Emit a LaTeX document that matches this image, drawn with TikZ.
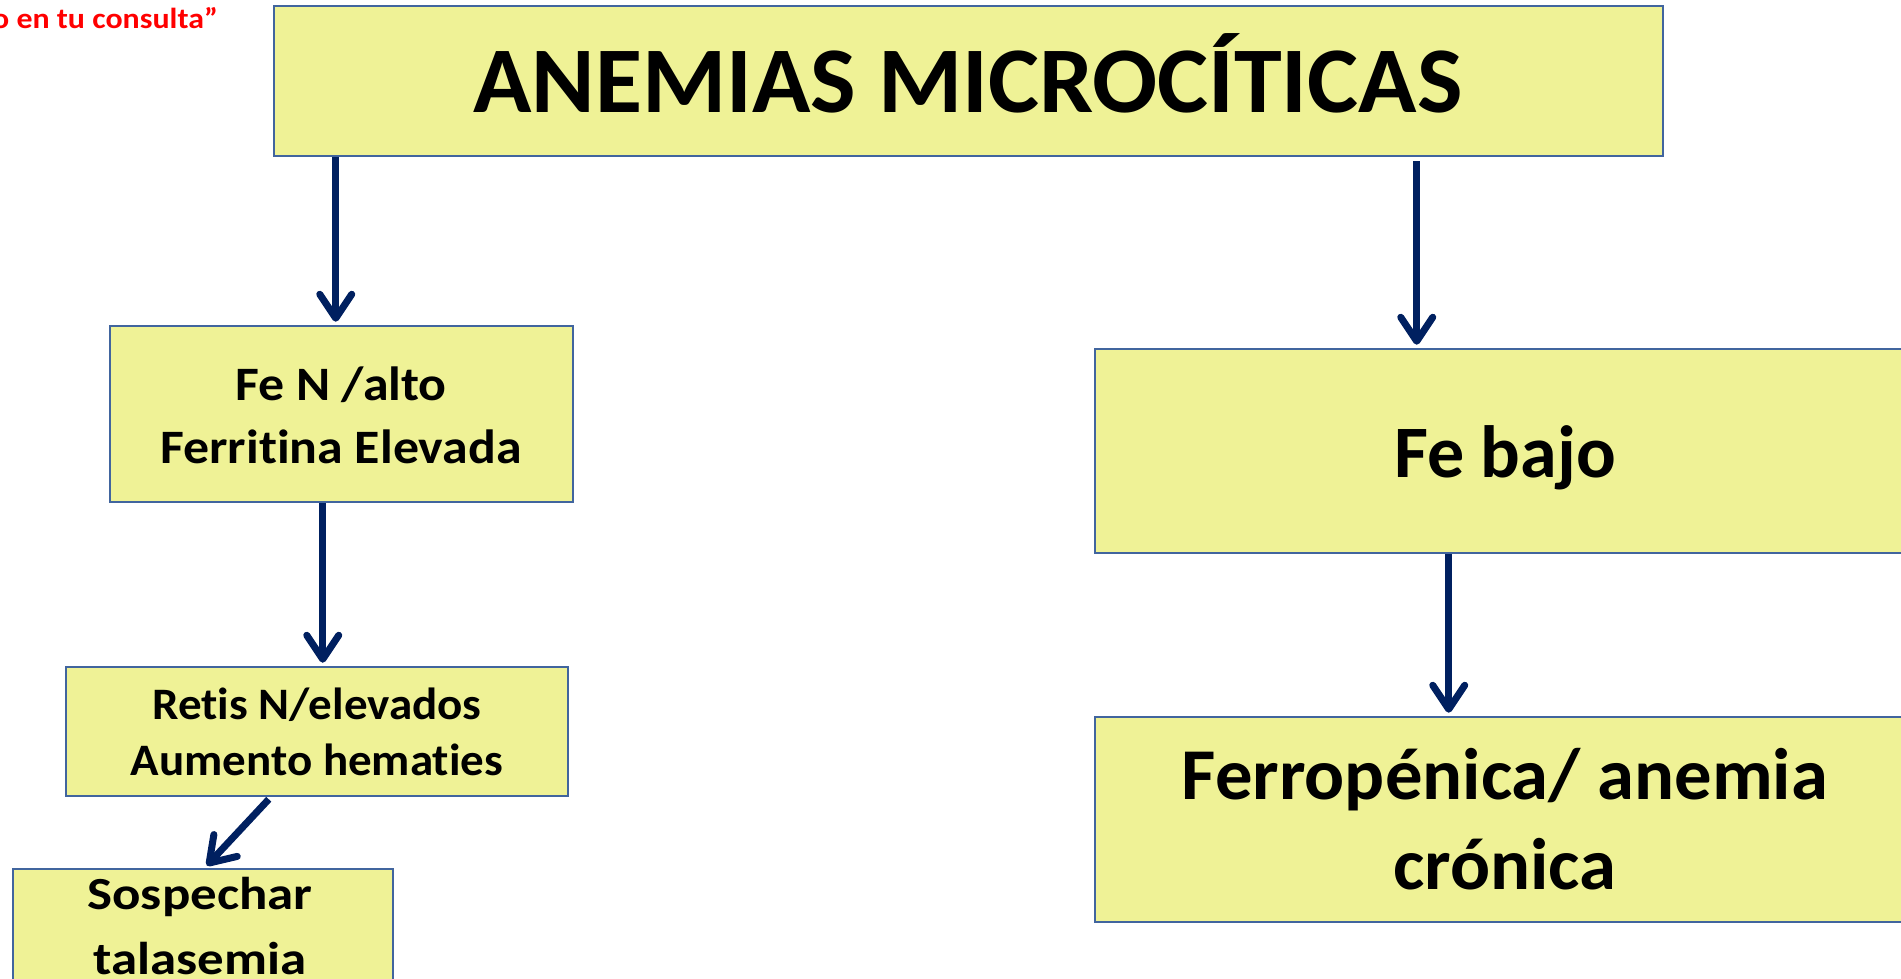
\documentclass[tikz,border=0pt]{standalone}
\usepackage{fontspec}
\setmainfont{Carlito}[Ligatures={NoCommon,NoContextual}]
\usetikzlibrary{arrows.meta}
\definecolor{boxfill}{HTML}{EFF296}
\definecolor{boxline}{HTML}{41659E}
\definecolor{navy}{HTML}{002060}
\definecolor{redtxt}{HTML}{FF0000}
\begin{document}
\begin{tikzpicture}[x=1pt,y=-1pt,
  box/.style={draw=boxline, fill=boxfill, line width=2.5pt, rectangle, inner sep=0pt},
  txt/.style={anchor=base, inner sep=0pt, font=\bfseries, text=black},
  arr/.style={draw=navy, line width=7pt, -{Straight Barb[length=24pt,width=32pt,round]}, shorten >=3pt}]
\useasboundingbox (0,0) rectangle (1901,979);
\fill[white] (0,0) rectangle (1901,979);
% red caption
\node[anchor=base east, inner sep=0pt, text=redtxt, font=\bfseries\fontsize{29}{34}\selectfont] (cap) at (218,29) {\scalebox{1.1}[1]{o en tu consulta”}};
% boxes
\node[box, minimum width=1389pt, minimum height=150pt] (title) at (968.5,81) {};
\node[box, minimum width=463pt, minimum height=176pt] (fen) at (341.5,414) {};
\node[box, minimum width=502pt, minimum height=129pt] (retis) at (317,731.5) {};
\node[box, minimum width=380pt, minimum height=130pt] (sosp) at (203,934) {};
\node[box, minimum width=820pt, minimum height=204pt] (febajo) at (1505,451) {};
\node[box, minimum width=820pt, minimum height=205pt] (ferro) at (1505,819.5) {};
% texts
\node[txt, font=\bfseries\fontsize{94}{110}\selectfont] (titletxt) at (968,113) {\scalebox{1.025}[1]{ANEMIAS MICROCÍTICAS}};
\node[txt, font=\bfseries\fontsize{48}{58}\selectfont] (fen1) at (341,400) {\scalebox{1.08}[1]{Fe N /alto}};
\node[txt, font=\bfseries\fontsize{48}{58}\selectfont] (fen2) at (341,463) {\scalebox{1.08}[1]{Ferritina Elevada}};
\node[txt, font=\bfseries\fontsize{45}{54}\selectfont] (retis1) at (317,719) {\scalebox{1.045}[1]{Retis N/elevados}};
\node[txt, font=\bfseries\fontsize{45}{54}\selectfont] (retis2) at (317,775) {\scalebox{1.045}[1]{Aumento hematies}};
\node[txt, font=\bfseries\fontsize{46}{55}\selectfont] (sosp1) at (200,909) {\scalebox{1.15}[1]{Sospechar}};
\node[txt, font=\bfseries\fontsize{46}{55}\selectfont] (sosp2) at (200,974) {\scalebox{1.15}[1]{talasemia}};
\node[txt, font=\bfseries\fontsize{74}{88}\selectfont] (feb1) at (1505,477) {Fe bajo};
\node[txt, font=\bfseries\fontsize{73}{88}\selectfont] (fer1) at (1505,799) {\scalebox{1.023}[1]{Ferropénica/ anemia}};
\node[txt, font=\bfseries\fontsize{73}{88}\selectfont] (fer2) at (1505,889) {\scalebox{1.023}[1]{crónica}};
% arrows
\draw[arr] ([xshift=63pt]title.south west) -- ([xshift=227pt]fen.north west);
\draw[arr] ([xshift=214pt]fen.south west) -- ([xshift=258pt]retis.north west);
\draw[arr] ([xshift=204pt,yshift=-2pt]retis.south west) -- ([xshift=193pt]sosp.north west);
\draw[arr] ([xshift=1144pt,yshift=-4pt]title.south west) -- ([xshift=323pt]febajo.north west);
\draw[arr] ([xshift=355pt]febajo.south west) -- ([xshift=355pt]ferro.north west);
\end{tikzpicture}
\end{document}
